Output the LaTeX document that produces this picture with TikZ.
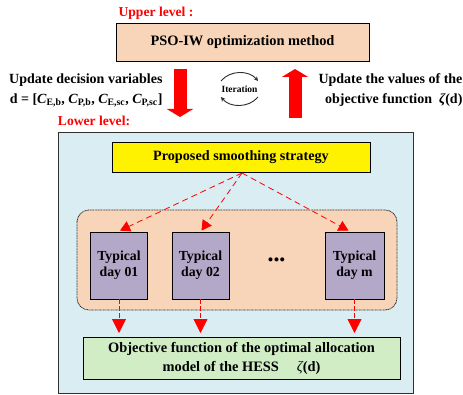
\documentclass[tikz,border=0pt]{standalone}
\usepackage{fontspec}
\setmainfont{Liberation Serif}
\usetikzlibrary{arrows.meta,calc}
\definecolor{peach}{HTML}{F8D5B8}
\definecolor{skyback}{HTML}{DAEDF3}
\definecolor{lilac}{HTML}{B4A8C9}
\definecolor{mint}{HTML}{D0EDC6}
\definecolor{hired}{HTML}{FF0000}
\definecolor{edgegray}{HTML}{303030}
\newcommand{\capv}[1]{{\itshape C}\textsubscript{#1}}
\begin{document}
\begin{tikzpicture}[x=1pt,y=-1pt,
  every node/.style={font=\bfseries},
  plainbox/.style={draw=black, line width=0.8pt, inner sep=0pt},
  daybox/.style={plainbox, fill=lilac, minimum width=57pt, minimum height=67pt, align=center, font=\bfseries\fontsize{13.8}{16}\selectfont},
  levellabel/.style={text=hired, font=\bfseries\fontsize{13.6}{14}\selectfont},
  sidetext/.style={font=\bfseries\fontsize{14}{20}\selectfont},
  bigarrow/.style={draw=hired, line width=13pt, -{Triangle[length=8pt,width=26pt]}},
  dasharrow/.style={draw=hired, line width=0.8pt, dash pattern=on 6pt off 4pt, -{Triangle[length=10pt,width=11pt]}},
  droparrow/.style={draw=hired, line width=0.8pt, dash pattern=on 5pt off 2pt, -{Triangle[length=14pt,width=14pt]}},
  loop/.style={draw=edgegray, line width=0.9pt, -{Stealth[length=4.5pt,width=4.5pt]}}
]
\useasboundingbox (0,0) rectangle (463,395);

% upper level
\node[levellabel] (uplab) at (156,13) {Upper level :};
\node[plainbox, fill=peach, minimum width=253pt, minimum height=38pt,
      font=\bfseries\fontsize{14.4}{16}\selectfont] (pso) at (242.5,42) {PSO-IW optimization method};

% information passed between the levels
\coordinate (downtop) at (180,69);
\coordinate (downtip) at (180,117);
\coordinate (upbot) at (295,118);
\coordinate (uptip) at (295,69);
\draw[bigarrow] (downtop) -- (downtip);
\draw[bigarrow] (upbot) -- (uptip);

\node[sidetext, anchor=east, align=right] (dvar) at (166,90)
  {Update decision variables\\
   d = [\capv{E,b}, \capv{P,b}, \capv{E,sc}, \capv{P,sc}]};
\node[sidetext, anchor=west, align=right] (obj) at (315,90)
  {Update the values of the\\
   objective function \ {\itshape ζ}(d)};

% iteration symbol
\node[font=\bfseries\fontsize{9.5}{10}\selectfont] (iter) at (239.5,89) {Iteration};
\coordinate (ia) at (221,81);
\coordinate (ib) at (258,81);
\coordinate (ic) at (258,97);
\coordinate (id) at (221,97);
\draw[loop] (ia) .. controls (230,70) and (249,70) .. (ib);
\draw[loop] (ic) .. controls (249,108) and (230,108) .. (id);

% lower level
\node[levellabel] (lowlab) at (94,121) {Lower level:};
\draw[draw=edgegray, line width=0.8pt, fill=skyback] (58,132) rectangle (413,393);
\node[plainbox, fill=yellow, minimum width=258pt, minimum height=30pt,
      font=\bfseries\fontsize{14.2}{16}\selectfont] (smooth) at (241,157) {Proposed smoothing strategy};

\draw[draw=edgegray, line width=0.8pt, dash pattern=on 1pt off 0.6pt, fill=peach, rounded corners=12pt] (77,210) rectangle (397,310);

\node[daybox] (d1) at (119,265.5) {Typical\\day 01};
\node[daybox] (d2) at (200.5,265.5) {Typical\\day 02};
\node[daybox, minimum width=59pt] (dm) at (354.5,265.5) {Typical\\day m};
\node[font=\fontsize{17}{17}\selectfont] (dots) at (276.5,262) {\textbullet\textbullet\textbullet};

\coordinate (fan) at (242,173);
\draw[dasharrow] (fan) -- ($(d1.north)+(1,-1)$);
\draw[dasharrow] (fan) -- ($(d2.north)+(1,-1)$);
\draw[dasharrow] (fan) -- ($(dm.north)+(-6,-1)$);

\node[plainbox, fill=mint, minimum width=317pt, minimum height=42pt, align=center,
      font=\bfseries\fontsize{14.4}{19}\selectfont] (goal) at (241.5,358)
  {Objective function of the optimal allocation\\model of the HESS \quad {\mdseries\itshape ζ}(d)};

\draw[droparrow] (d1.south) -- (d1.south |- 0,333);
\draw[droparrow] (d2.south) -- (d2.south |- 0,333);
\draw[droparrow] (dm.south) -- (dm.south |- 0,333);
\end{tikzpicture}
\end{document}
